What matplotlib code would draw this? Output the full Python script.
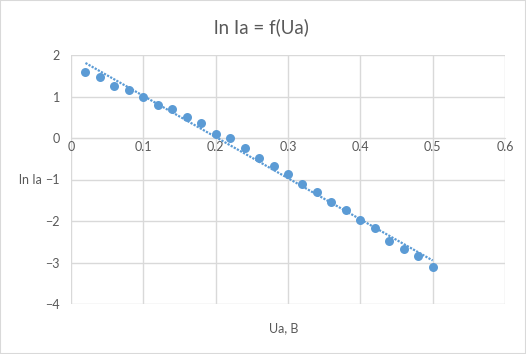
import numpy as np
import matplotlib
matplotlib.use("Agg")
import matplotlib.pyplot as plt
from matplotlib.patches import Rectangle

ua = [0.02, 0.04, 0.06, 0.08, 0.10, 0.12, 0.14, 0.16, 0.18, 0.20, 0.22, 0.24, 0.26,
      0.28, 0.30, 0.32, 0.34, 0.36, 0.38, 0.40, 0.42, 0.44, 0.46, 0.48, 0.50]
ln_ia = [1.59, 1.48, 1.26, 1.16, 0.99, 0.80, 0.69, 0.50, 0.35, 0.10, 0.00, -0.25, -0.49,
         -0.67, -0.87, -1.11, -1.31, -1.54, -1.73, -1.98, -2.17, -2.47, -2.67, -2.84, -3.11]
xticks = [0, 0.1, 0.2, 0.3, 0.4, 0.5, 0.6]
xtick_labels = ["0", "0.1", "0.2", "0.3", "0.4", "0.5", "0.6"]
yticks = [-4, -3, -2, -1, 0, 1, 2]

plt.rcParams['font.family'] = ['Lato', 'DejaVu Sans']
blue = '#5B9BD5'
gray_text = '#595959'
grid_c = '#D9D9D9'

fig = plt.figure(figsize=(5.26, 3.54), dpi=100)
fig.patches.append(Rectangle((0, 0), 1, 1, transform=fig.transFigure,
                             fill=False, edgecolor='#D9D9D9', linewidth=1.5))
ax = fig.add_axes([71/526, 1-304/354, (505-71)/526, (304-55)/354])

x = np.array(ua)
y = np.array(ln_ia)
k, b = np.polyfit(x, y, 1)
xf = np.array([x.min(), x.max()])
ax.plot(xf, k*xf + b, color=blue, linestyle=(0, (1, 0.6)), linewidth=1.6, zorder=3)
ax.scatter(x, y, s=42, color=blue, zorder=4, linewidths=0)

ax.set_xlim(0, 0.6)
ax.set_ylim(-4, 2)
ax.set_xticks(xticks)
ax.set_xticklabels(xtick_labels)
ax.set_yticks(yticks)
ax.grid(True, color=grid_c, linewidth=1)
ax.set_axisbelow(True)
for s in ['top', 'right', 'left']:
    ax.spines[s].set_visible(False)
ax.spines['bottom'].set_position(('data', 0))
ax.spines['bottom'].set_color(grid_c)
ax.tick_params(axis='both', length=0, labelsize=9, labelcolor=gray_text)
ax.tick_params(axis='x', pad=2)
ax.tick_params(axis='y', pad=8)

fig.text(261/526, 1-27/354, "ln Ia = f(Ua)", ha='center', va='center',
         fontsize=13.5, color=gray_text)
fig.text(30/526, 1-180/354, "ln Ia", ha='center', va='center',
         fontsize=9, color=gray_text)
fig.text(284/526, 1-328/354, "Ua, B", ha='center', va='center',
         fontsize=9, color=gray_text)

fig.savefig("out.png", dpi=100)
